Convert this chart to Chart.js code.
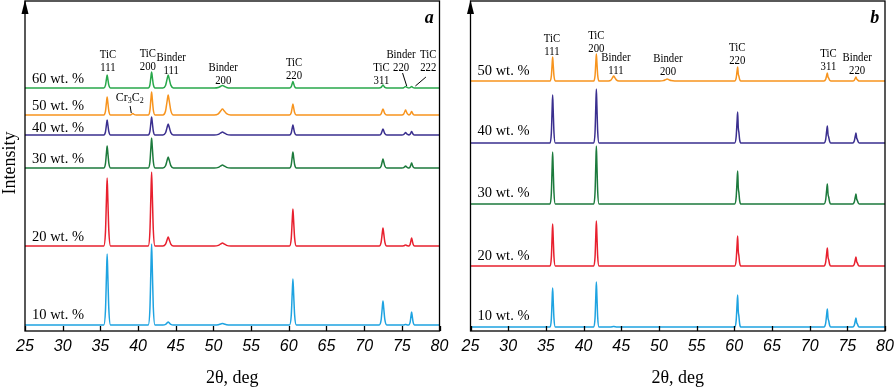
<!DOCTYPE html>
<html>
<head>
<meta charset="utf-8">
<script src="https://cdn.jsdelivr.net/npm/chart.js@4.4.1/dist/chart.umd.min.js"></script>
<style>
  html, body { margin: 0; padding: 0; background: #fff; }
  #wrap { position: relative; width: 895px; height: 390px; overflow: hidden; }
  canvas { position: absolute; top: 0; }
</style>
</head>
<body>
<div id="wrap">
  <canvas id="panelA" width="460" height="390" style="left:0"></canvas>
  <canvas id="panelB" width="450" height="390" style="left:445px"></canvas>
</div>
<script>
// x axis (2θ, deg)
const xTicks = [25, 30, 35, 40, 45, 50, 55, 60, 65, 70, 75, 80];

// ---- panel a ----
const seriesA = ['10 wt. %', '20 wt. %', '30 wt. %', '40 wt. %', '50 wt. %', '60 wt. %'];
const colorsA = ['#1ea3e1', '#e8202e', '#1c7a3c', '#3a2f8f', '#f7941e', '#28a84b'];
const offsetsA = [6, 85, 163, 196, 216, 243];
const peaksA  = [35.9, 39.3, 41.8, 44.0, 51.2, 60.55, 72.5, 75.5, 76.3];
const widthsA = [0.9, 0.9, 0.9, 1.4, 2.2, 0.9, 1.0, 1.0, 0.8];
const heightsA = [
  [71, 0, 81, 3, 1.5, 46, 24, 0.5, 13],   // 10 wt. %
  [68, 0, 74, 9, 3, 37, 18, 1, 8],        // 20 wt. %
  [22, 0, 30, 11, 3, 16, 9, 2, 5],        // 30 wt. %
  [15, 0, 18, 11, 3, 10, 6, 2.5, 3.5],    // 40 wt. %
  [18, 1.5, 23, 20, 6, 11, 6, 5, 3.5],    // 50 wt. %
  [13, 0, 16, 13, 2.5, 6.5, 3, 1.5, 1.5]  // 60 wt. %
];

// ---- panel b ----
const seriesB = ['10 wt. %', '20 wt. %', '30 wt. %', '40 wt. %', '50 wt. %'];
const colorsB = ['#1ea3e1', '#e8202e', '#1c7a3c', '#3a2f8f', '#f7941e'];
const offsetsB = [4, 65, 127, 188, 250];
const peaksB  = [35.9, 41.7, 44.0, 51.1, 60.45, 72.35, 76.15];
const widthsB = [0.7, 0.7, 1.4, 2.0, 0.8, 0.9, 0.9];
const heightsB = [
  [39, 45, 0.5, 0, 32, 18, 9],  // 10 wt. %
  [42, 45, 0, 0, 30, 18, 9],    // 20 wt. %
  [52, 58, 0, 0, 33, 20, 10],   // 30 wt. %
  [48, 54, 0, 0, 31, 17, 10],   // 40 wt. %
  [24, 27, 5, 2, 14, 8, 4]      // 50 wt. %
];

// peak labels: text lines, 2θ, level
const peakLabelsA = [
  { t: ['TiC', '111'], x: 36.0, y: 276 },
  { t: ['TiC', '200'], x: 41.3, y: 277 },
  { t: ['Binder', '111'], x: 44.4, y: 273 },
  { t: ['Binder', '200'], x: 51.3, y: 263 },
  { t: ['TiC', '220'], x: 60.7, y: 268 },
  { t: ['TiC', '311'], x: 72.3, y: 263 },
  { t: ['Binder', '220'], x: 74.9, y: 276 },
  { t: ['TiC', '222'], x: 78.5, y: 276 }
];
const peakLabelsB = [
  { t: ['TiC', '111'], x: 35.8, y: 292 },
  { t: ['TiC', '200'], x: 41.7, y: 295 },
  { t: ['Binder', '111'], x: 44.3, y: 273 },
  { t: ['Binder', '200'], x: 51.2, y: 272 },
  { t: ['TiC', '220'], x: 60.4, y: 283 },
  { t: ['TiC', '311'], x: 72.5, y: 277 },
  { t: ['Binder', '220'], x: 76.3, y: 273 }
];
const leadersA = [
  [75.1, 258, 75.65, 245],
  [78.2, 254, 76.8, 245],
  [38.95, 225, 39.1, 218]
];
const seriesLabelY_A = [16, 94, 172, 203, 225, 252];
const seriesLabelY_B = [15, 75, 138, 200, 260];

function pattern(peaks, widths, heights, base, shoulder) {
  const pts = [{ x: 25, y: base }];
  peaks.forEach((p, i) => {
    const h = heights[i], w = widths[i];
    if (!h) return;
    pts.push({ x: p - w / 2, y: base });
    pts.push({ x: p - w / 4, y: base + h * 0.2 });
    pts.push({ x: p - w / 10, y: base + h * 0.7 });
    pts.push({ x: p, y: base + h });
    if (shoulder && p > 55) {
      pts.push({ x: p + w / 10, y: base + h * 0.5 });
      pts.push({ x: p + w / 5, y: base + h * 0.35 });
      pts.push({ x: p + w / 3, y: base + h * 0.1 });
    } else {
      pts.push({ x: p + w / 10, y: base + h * 0.7 });
      pts.push({ x: p + w / 4, y: base + h * 0.22 });
    }
    pts.push({ x: p + w / 2, y: base });
  });
  pts.push({ x: 80, y: base });
  return pts;
}

function drawCr3C2(ctx, cx, cy) {
  const big = '12px "Liberation Serif"', small = '8px "Liberation Serif"';
  const parts = [['Cr', big, 0], ['3', small, 3], ['C', big, 0], ['2', small, 3]];
  let w = 0;
  parts.forEach(p => { ctx.font = p[1]; w += ctx.measureText(p[0]).width; });
  let px = cx - w / 2;
  ctx.textAlign = 'left';
  parts.forEach(p => {
    ctx.font = p[1];
    ctx.fillText(p[0], px, cy + p[2]);
    px += ctx.measureText(p[0]).width;
  });
}

function condensed(ctx, s, px, py) {
  ctx.save();
  ctx.translate(px, py);
  ctx.scale(0.86, 1);
  ctx.fillText(s, 0, 0);
  ctx.restore();
}

function decor(cfg) {
  return {
    id: 'decor',
    afterDraw(chart) {
      const { ctx, chartArea: a, scales: { x, y } } = chart;
      ctx.save();
      ctx.strokeStyle = '#000';
      ctx.fillStyle = '#000';
      ctx.lineWidth = 1.3;
      ctx.strokeRect(a.left, a.top, a.right - a.left, a.bottom - a.top);
      // inward ticks
      ctx.beginPath();
      xTicks.forEach(v => {
        const px = Math.round(x.getPixelForValue(v)) + 0.5;
        ctx.moveTo(px, a.bottom);
        ctx.lineTo(px, a.bottom - 5);
      });
      ctx.stroke();
      // arrow on intensity axis
      ctx.beginPath();
      ctx.moveTo(a.left, a.top - 1);
      ctx.lineTo(a.left - 3.5, a.top + 13);
      ctx.lineTo(a.left + 3.5, a.top + 13);
      ctx.closePath();
      ctx.fill();

      ctx.textBaseline = 'middle';
      // series names
      ctx.font = '14.5px "Liberation Serif"';
      ctx.textAlign = 'left';
      cfg.names.forEach((n, i) => ctx.fillText(n, a.left + 7, y.getPixelForValue(cfg.nameY[i])));
      // peak labels
      ctx.font = '12.5px "Liberation Serif"';
      ctx.textAlign = 'center';
      cfg.peaks.forEach(l => {
        const px = x.getPixelForValue(l.x), py = y.getPixelForValue(l.y);
        l.t.forEach((s, k) => condensed(ctx, s, px, py + k * 12.5));
      });
      // leader lines
      ctx.lineWidth = 1;
      ctx.beginPath();
      (cfg.leaders || []).forEach(s => {
        ctx.moveTo(x.getPixelForValue(s[0]), y.getPixelForValue(s[1]));
        ctx.lineTo(x.getPixelForValue(s[2]), y.getPixelForValue(s[3]));
      });
      ctx.stroke();
      if (cfg.cr) drawCr3C2(ctx, x.getPixelForValue(38.9), y.getPixelForValue(233));
      // panel letter
      ctx.font = 'italic bold 18px "Liberation Serif"';
      ctx.textAlign = 'center';
      ctx.fillText(cfg.letter, x.getPixelForValue(78.65), y.getPixelForValue(313));
      if (cfg.yTitle) {
        ctx.translate(10, 163);
        ctx.rotate(-Math.PI / 2);
        ctx.font = '18px "Liberation Serif"';
        ctx.fillText('Intensity', 0, 0);
      }
      ctx.restore();
    }
  };
}

function makeChart(id, names, colors, offsets, peaks, widths, heights, pad, shoulder, cfg) {
  const datasets = names.map((n, i) => ({
    label: n,
    data: pattern(peaks, widths, heights[i], offsets[i], shoulder),
    borderColor: colors[i],
    borderWidth: 1.5,
    pointRadius: 0,
    fill: false,
    cubicInterpolationMode: 'monotone'
  }));
  return new Chart(document.getElementById(id).getContext('2d'), {
    type: 'line',
    data: { datasets },
    options: {
      responsive: false,
      animation: false,
      layout: { padding: pad },
      plugins: { legend: { display: false }, tooltip: { enabled: false } },
      scales: {
        x: {
          type: 'linear',
          min: 25,
          max: 80,
          grid: { display: false, drawTicks: false },
          border: { display: false },
          afterBuildTicks: s => { s.ticks = xTicks.map(v => ({ value: v })); },
          afterFit: s => { s.height = 59; s.paddingLeft = 0; s.paddingRight = 0; },
          ticks: {
            autoSkip: false,
            maxRotation: 0,
            padding: 6,
            color: '#000',
            font: { family: 'Liberation Sans', size: 16, style: 'italic' }
          },
          title: {
            display: true,
            text: '2θ, deg',
            color: '#000',
            padding: { top: 0, bottom: 1 },
            font: { family: 'Liberation Serif', size: 18 }
          }
        },
        y: { type: 'linear', min: 0, max: 330, display: false }
      }
    },
    plugins: [decor(cfg)]
  });
}

makeChart('panelA', seriesA, colorsA, offsetsA, peaksA, widthsA, heightsA,
  { left: 25, right: 20.5, top: 1, bottom: 0 }, false,
  { names: seriesA, nameY: seriesLabelY_A, peaks: peakLabelsA, leaders: leadersA, cr: true, letter: 'a', yTitle: true });

makeChart('panelB', seriesB, colorsB, offsetsB, peaksB, widthsB, heightsB,
  { left: 25.5, right: 10, top: 1, bottom: 0 }, true,
  { names: seriesB, nameY: seriesLabelY_B, peaks: peakLabelsB, leaders: [], cr: false, letter: 'b', yTitle: false });
</script>
</body>
</html>
